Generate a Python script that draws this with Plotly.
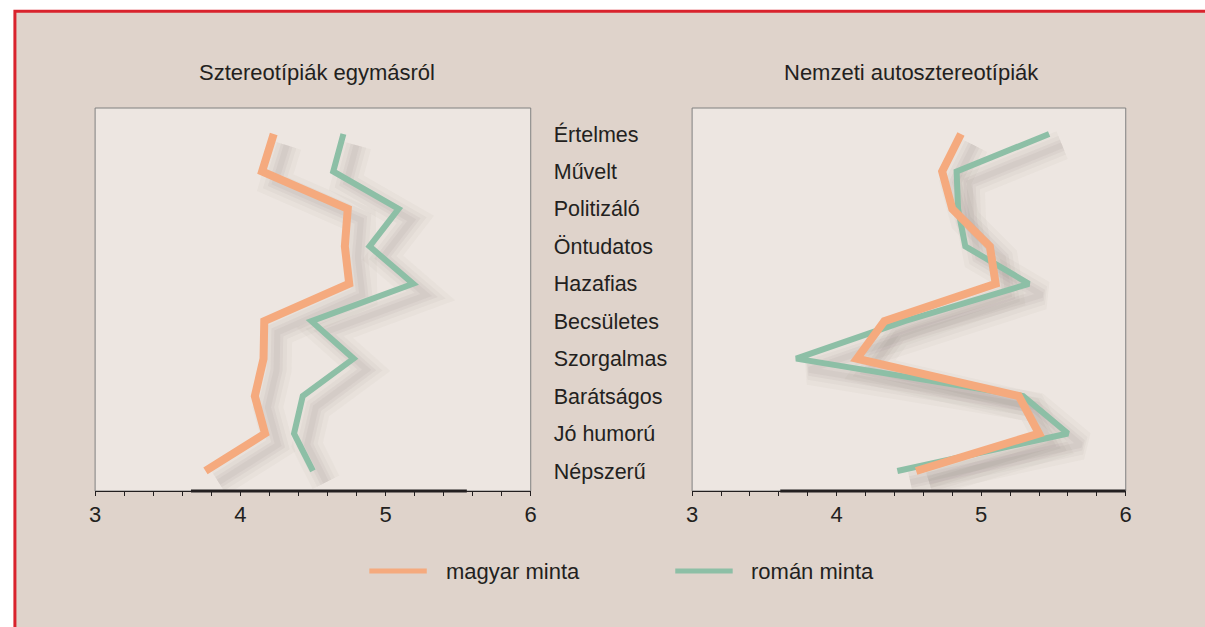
import plotly.graph_objects as go

MAGYAR_COLOR = "#F5AA7E"
ROMAN_COLOR = "#8DBFA6"
TEXT_COLOR = "#231F20"
FRAME_COLOR = "#D9232D"
PANEL_BG = "#DFD3CB"
PLOT_BG = "#EDE6E1"
FONT = "Liberation Sans, Arial, sans-serif"

categories = [
    "Értelmes", "Művelt", "Politizáló", "Öntudatos", "Hazafias",
    "Becsületes", "Szorgalmas", "Barátságos", "Jó humorú", "Népszerű",
]
left_magyar = [4.23, 4.15, 4.74, 4.72, 4.75, 4.165, 4.16, 4.10, 4.17, 3.76]
left_roman = [4.71, 4.64, 5.09, 4.89, 5.19, 4.49, 4.78, 4.43, 4.37, 4.50]
right_magyar = [4.86, 4.73, 4.80, 5.06, 5.10, 4.33, 4.14, 5.26, 5.40, 4.55]
right_roman = [5.47, 4.83, 4.84, 4.89, 5.33, 4.47, 3.72, 5.29, 5.60, 4.42]

panel_titles = ["Sztereotípiák egymásról", "Nemzeti autosztereotípiák"]
series_names = ["magyar minta", "román minta"]
x_ticks = [3, 4, 5, 6]

W, H = 1205, 627
positions = list(range(len(categories)))


def px_x(v):
    return v / W


def px_y(v):
    return 1 - v / H


def shadow_traces(values, xa, ya):
    # soft drop shadow: a few wide, faint strokes shifted right/down
    out = []
    for width, alpha in ((30, 0.03), (20, 0.04), (12, 0.05), (6, 0.05)):
        out.append(
            go.Scatter(
                x=[v + 0.09 for v in values],
                y=[p + 0.3 for p in positions],
                mode="lines",
                line={"color": f"rgba(95,80,70,{alpha})", "width": width},
                xaxis=xa, yaxis=ya, hoverinfo="skip", showlegend=False,
            )
        )
    return out


def line_trace(values, color, width, name, xa, ya):
    return go.Scatter(
        x=values, y=positions, mode="lines",
        line={"color": color, "width": width},
        name=name, xaxis=xa, yaxis=ya, showlegend=False,
        hovertemplate=name + ": %{x:.2f}<extra></extra>",
    )


fig = go.Figure()
panels = [
    ("x", "y", left_magyar, left_roman),
    ("x2", "y2", right_magyar, right_roman),
]
for xa, ya, magyar, roman in panels:
    for t in shadow_traces(roman, xa, ya) + shadow_traces(magyar, xa, ya):
        fig.add_trace(t)
    fig.add_trace(line_trace(roman, ROMAN_COLOR, 6, series_names[1], xa, ya))
    fig.add_trace(line_trace(magyar, MAGYAR_COLOR, 8, series_names[0], xa, ya))

x_domains = [[px_x(90), px_x(530)], [px_x(693), px_x(1131)]]
y_domain = [px_y(491), px_y(108)]
y_range = [9.535, -0.694]

xaxis_common = dict(
    range=[3, 6], tickvals=x_ticks, ticks="outside", ticklen=4, tickwidth=1,
    tickcolor=TEXT_COLOR, showline=True, linecolor=TEXT_COLOR, linewidth=1,
    showgrid=False, zeroline=False, fixedrange=True,
    tickfont={"size": 22, "color": TEXT_COLOR, "family": FONT},
    minor={"dtick": 0.2, "ticks": "outside", "ticklen": 4, "tickcolor": TEXT_COLOR, "showgrid": False},
)
inner_ticks = dict(
    range=[3, 6], tickvals=x_ticks, ticks="inside", ticklen=6, tickwidth=1,
    tickcolor=TEXT_COLOR, showticklabels=False, showline=False, showgrid=False,
    zeroline=False, fixedrange=True,
    minor={"dtick": 0.2, "ticks": "inside", "ticklen": 4, "tickcolor": TEXT_COLOR, "showgrid": False},
)

fig.update_layout(
    width=W, height=H,
    margin={"l": 0, "r": 0, "t": 0, "b": 0},
    paper_bgcolor="white", plot_bgcolor="rgba(0,0,0,0)",
    font={"family": FONT, "color": TEXT_COLOR, "size": 20},
    xaxis={**xaxis_common, "domain": x_domains[0], "anchor": "y"},
    xaxis2={**xaxis_common, "domain": x_domains[1], "anchor": "y2"},
    xaxis3={**inner_ticks, "domain": x_domains[0], "anchor": "y", "overlaying": "x"},
    xaxis4={**inner_ticks, "domain": x_domains[1], "anchor": "y2", "overlaying": "x2"},
    yaxis={
        "domain": y_domain, "range": y_range, "anchor": "x", "side": "right",
        "tickvals": positions, "ticktext": categories, "ticks": "",
        "ticklabelstandoff": 22, "showgrid": False, "zeroline": False,
        "showline": False, "fixedrange": True,
        "tickfont": {"size": 21.5, "color": TEXT_COLOR, "family": FONT},
    },
    yaxis2={
        "domain": y_domain, "range": y_range, "anchor": "x2",
        "showticklabels": False, "ticks": "", "showgrid": False,
        "zeroline": False, "showline": False, "fixedrange": True,
    },
    showlegend=False,
    hovermode="closest",
)

# outer panel with red frame
fig.add_shape(
    type="rect", xref="paper", yref="paper",
    x0=px_x(9), x1=1.02, y0=-0.02, y1=px_y(11.3),
    fillcolor=PANEL_BG, line={"color": FRAME_COLOR, "width": 3}, layer="below",
)
# plot areas and thick axis segments
for xa, ya, seg in (("x", "y", (3.66, 5.56)), ("x2", "y2", (3.61, 6.0))):
    fig.add_shape(
        type="rect", xref=f"{xa} domain", yref=f"{ya} domain",
        x0=0, x1=1, y0=0, y1=1, fillcolor=PLOT_BG,
        line={"color": "#808080", "width": 1}, layer="below",
    )
    fig.add_shape(
        type="line", xref=xa, yref=f"{ya} domain",
        x0=seg[0], x1=seg[1], y0=0, y1=0,
        line={"color": TEXT_COLOR, "width": 3},
    )

for title, cx in zip(panel_titles, [314, 915]):
    fig.add_annotation(
        text=title, xref="paper", yref="paper", x=px_x(cx), y=px_y(73),
        xanchor="center", yanchor="middle", showarrow=False,
        font={"size": 22, "color": TEXT_COLOR, "family": FONT},
    )

# legend key drawn by hand so swatch length and spacing match
for name, color, x0, tx in zip(series_names, [MAGYAR_COLOR, ROMAN_COLOR], [367, 676], [442, 750]):
    fig.add_shape(
        type="line", xref="paper", yref="paper",
        x0=px_x(x0), x1=px_x(x0 + 58), y0=px_y(571), y1=px_y(571),
        line={"color": color, "width": 5},
    )
    fig.add_annotation(
        text=name, xref="paper", yref="paper", x=px_x(tx), y=px_y(571),
        xanchor="left", yanchor="middle", showarrow=False,
        font={"size": 22, "color": TEXT_COLOR, "family": FONT},
    )

fig.write_html(
    "out.html",
    config={"displayModeBar": False},
    post_script="document.body.style.margin='0';document.body.style.overflow='hidden';",
)
